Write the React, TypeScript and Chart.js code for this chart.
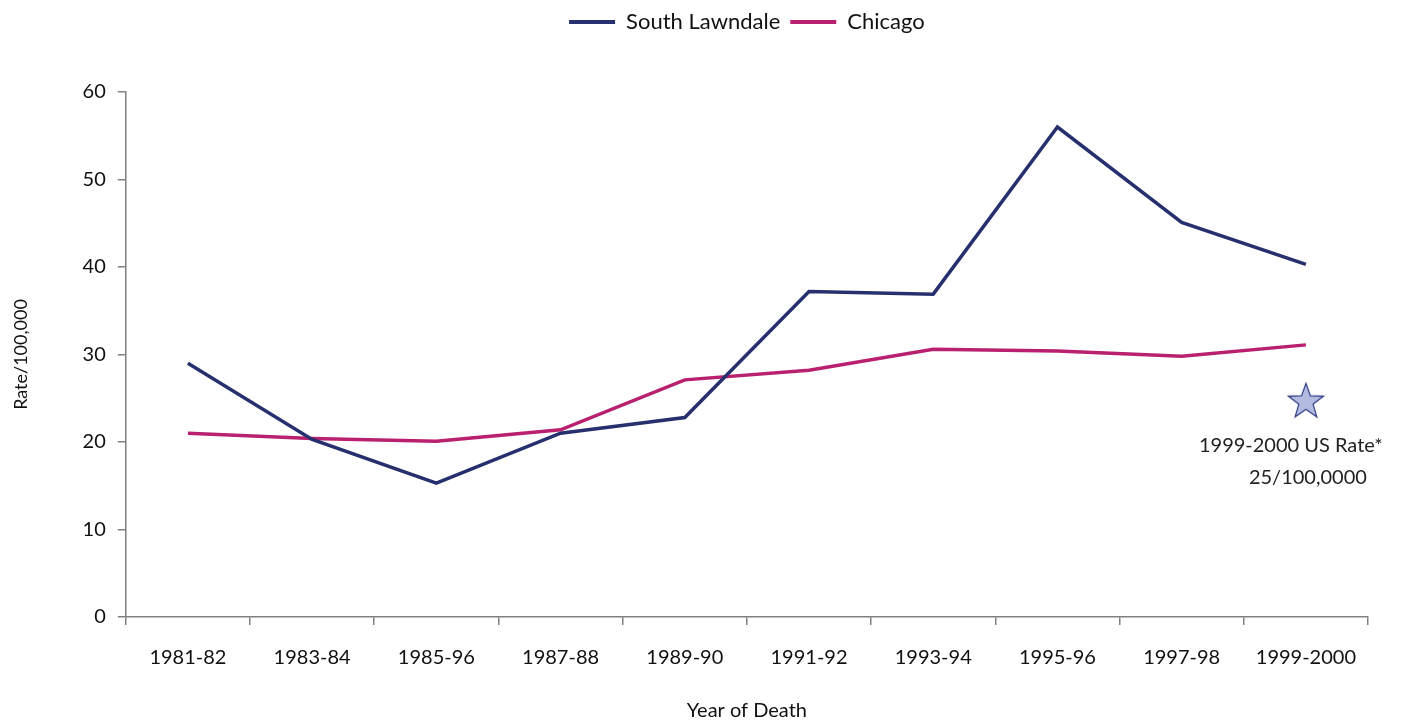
import React, { useEffect, useRef } from "react";
import { Chart, registerables } from "chart.js";

Chart.register(...registerables);

const categories = ["1981-82", "1983-84", "1985-96", "1987-88", "1989-90", "1991-92", "1993-94", "1995-96", "1997-98", "1999-2000"];
const southLawndale = [29.0, 20.3, 15.3, 21.0, 22.8, 37.2, 36.9, 56.0, 45.1, 40.3];
const chicago = [21.0, 20.4, 20.1, 21.4, 27.1, 28.2, 30.6, 30.4, 29.8, 31.1];
const usRateIndex = 9;
const usRateValue = 24.7;
const usRateLabel = ["1999-2000 US Rate*", "25/100,0000"];
const yTicks = [0, 10, 20, 30, 40, 50, 60];

const FONT = "Lato, 'Open Sans', sans-serif";
const NAVY = "#27306e";
const MAGENTA = "#b9206f";

function makeStar(): HTMLCanvasElement {
  const c = document.createElement("canvas");
  const size = 40;
  c.width = size;
  c.height = size;
  const ctx = c.getContext("2d")!;
  const cx = size / 2, cy = size / 2 + 1;
  const outer = 18.5, inner = 7.5;
  ctx.beginPath();
  for (let i = 0; i < 10; i++) {
    const r = i % 2 === 0 ? outer : inner;
    const a = -Math.PI / 2 + (i * Math.PI) / 5;
    const x = cx + r * Math.cos(a);
    const y = cy + r * Math.sin(a);
    if (i === 0) ctx.moveTo(x, y); else ctx.lineTo(x, y);
  }
  ctx.closePath();
  ctx.fillStyle = "#b3bce0";
  ctx.fill();
  ctx.lineWidth = 1.2;
  ctx.strokeStyle = "#2e3a85";
  ctx.stroke();
  return c;
}

const annotationPlugin = {
  id: "usRateLabel",
  afterDatasetsDraw(chart: any) {
    const meta = chart.getDatasetMeta(2);
    const pt = meta.data[usRateIndex];
    if (!pt) return;
    const ctx = chart.ctx;
    ctx.save();
    ctx.fillStyle = "#222";
    ctx.font = `20px ${FONT}`;
    ctx.textAlign = "center";
    ctx.textBaseline = "middle";
    ctx.fillText(usRateLabel[0], pt.x - 15, pt.y + 45);
    ctx.fillText(usRateLabel[1], pt.x + 2, pt.y + 77);
    ctx.restore();
  },
};

const legendSpacing = {
  id: "legendSpacing",
  beforeLayout(chart: any) {
    const legend = chart.legend;
    if (!legend || legend._patched) return;
    const orig = legend.fit;
    legend.fit = function () {
      orig.call(this);
      this.height += 49;
    };
    legend._patched = true;
  },
  afterLayout(chart: any) {
    const legend = chart.legend;
    const area = chart.chartArea;
    if (!legend) return;
    const mid = (legend.left + legend.right) / 2;
    const target = (area.left + area.right) / 2;
    legend.left += target - mid;
    legend.right += target - mid;
  },
};

export default function App() {
  const ref = useRef<HTMLCanvasElement>(null);
  useEffect(() => {
    if (!ref.current) return;
    const starData = categories.map((_, i) => (i === usRateIndex ? usRateValue : null));
    const chart = new Chart(ref.current, {
      type: "line",
      data: {
        labels: categories,
        datasets: [
          { label: "South Lawndale", data: southLawndale, borderColor: NAVY, backgroundColor: NAVY, borderWidth: 3.5, pointRadius: 0, tension: 0 },
          { label: "Chicago", data: chicago, borderColor: MAGENTA, backgroundColor: MAGENTA, borderWidth: 3.5, pointRadius: 0, tension: 0 },
          { label: "US Rate", data: starData as any, showLine: false, pointStyle: makeStar() as any, pointRadius: 20, borderWidth: 0 },
        ],
      },
      options: {
        animation: false,
        responsive: false,
        layout: { padding: { left: 10, right: 58, top: 1, bottom: 0 } },
        plugins: {
          tooltip: { enabled: false },
          legend: {
            position: "top",
            labels: {
              filter: (item: any) => item.datasetIndex !== 2,
              generateLabels: (chart: any) =>
                Chart.defaults.plugins.legend.labels.generateLabels(chart).map((l: any) => ({ ...l, lineWidth: 0 })),
              boxWidth: 46,
              boxHeight: 4,
              color: "#111",
              font: { family: FONT, size: 22 },
              padding: 10,
            },
          },
        },
        scales: {
          x: {
            offset: true,
            grid: { offset: true, drawOnChartArea: false, drawTicks: true, tickLength: 8, color: "#808080", lineWidth: 1.5 },
            border: { color: "#808080", width: 1.5 },
            ticks: { color: "#111", font: { family: FONT, size: 20 }, padding: 21, maxRotation: 0 },
            title: { display: true, text: "Year of Death", color: "#111", font: { family: FONT, size: 20 }, padding: { top: 8, bottom: 0 } },
          },
          y: {
            min: 0,
            max: 60,
            afterBuildTicks: (axis: any) => { axis.ticks = yTicks.map((v) => ({ value: v })); },
            grid: { drawOnChartArea: false, drawTicks: true, tickLength: 8, color: "#808080", lineWidth: 1.5 },
            border: { color: "#808080", width: 1.5 },
            ticks: { color: "#111", font: { family: FONT, size: 20 }, padding: 12 },
            title: { display: true, text: "Rate/100,000", color: "#111", font: { family: FONT, size: 18 }, padding: { top: 0, bottom: 39 } },
          },
        },
      },
      plugins: [annotationPlugin, legendSpacing],
    });
    return () => chart.destroy();
  }, []);
  return (
    <div style={{ position: "fixed", left: 0, top: 0, width: 1426, height: 723, background: "#fff" }}>
      <canvas ref={ref} width={1426} height={723} style={{ display: "block" }} />
    </div>
  );
}
